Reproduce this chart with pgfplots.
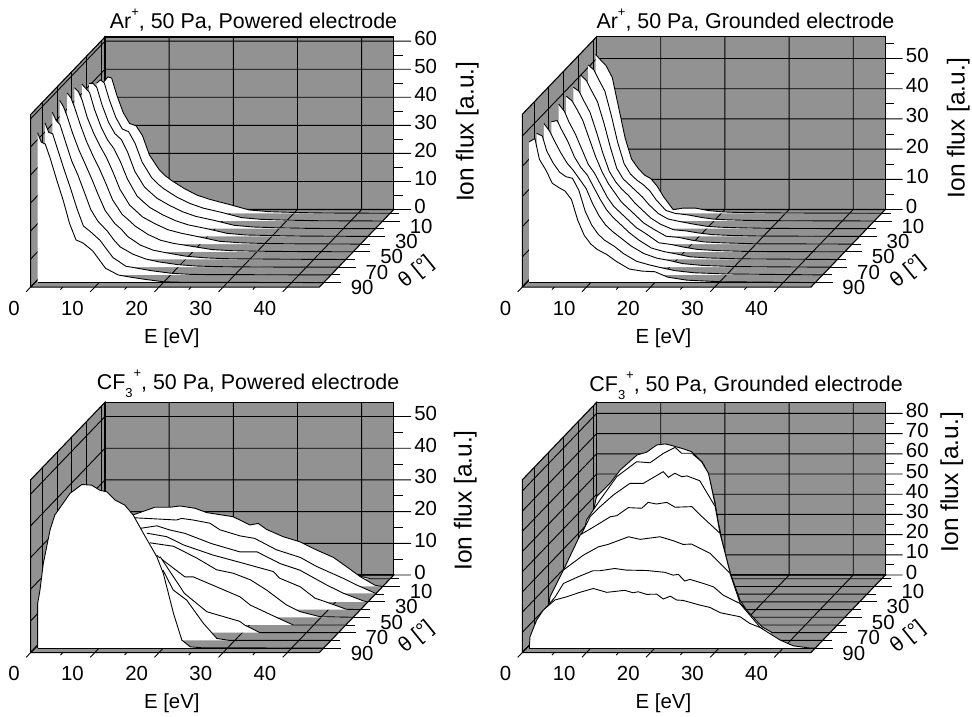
\documentclass[border=0pt]{standalone}
\usepackage{fontspec}
\setmainfont{Liberation Sans}
\usepackage{pgfplots}
\usepackage{pgfplotstable}
\pgfplotsset{compat=1.18}
\definecolor{wallgray}{HTML}{929292}
\newcommand{\fnt}{\fontsize{20.4}{24}\selectfont}
\newcommand{\supplus}{\raisebox{12pt}{\fontsize{13}{13}\selectfont +}}
\newcommand{\subthree}{\raisebox{-8.7pt}{\fontsize{13}{13}\selectfont 3}}
\pgfplotsset{
 lnk/.style={black,line width=0.9pt,mark=none,forget plot},
 wall/.style={fill=wallgray,draw=black,line width=1.1pt,mark=none,forget plot},
 panel/.style={
  x={(6.415pt,0pt)},y={(-0.738pt,-0.77pt)},
  xmin=0,xmax=45,ymin=-4.9,ymax=95.8,zmin=0,
  clip=false,
  xtick={0,10,20,30,40},ytick={10,30,50,70,90},
  grid=none,
  major tick length=0pt,minor tick length=0pt,
  tick style={draw=none},
  axis line style={draw=none},
  /pgf/number format/assume math mode=true,
  tick label style={font=\fnt,inner sep=0pt},
  xticklabel style={anchor=east,xshift=-10.8pt,yshift=-21pt},
  yticklabel style={anchor=west,xshift=27pt,yshift=-5pt},
  zticklabel style={anchor=west,xshift=20.5pt,yshift=3pt},
  label style={font=\fnt},
  title style={font=\fontsize{21.4}{25}\selectfont,inner sep=0pt},
  zticklabel pos=right,
  xlabel={E [eV]},ylabel={θ [°]},zlabel={Ion flux [a.u.]},
  xlabel style={at={(axis cs:22,95.8,0)},anchor=center,yshift=-51pt,xshift=0pt},
  ylabel style={at={(axis cs:45,95.8,0)},anchor=center,xshift=97pt,yshift=15pt,rotate=39,font=\fontsize{21}{25}\selectfont},
 },
}
% frame: zmax, major z, minor z
\newcommand{\frameit}[3]{%
 \addplot3[wall] coordinates {(0,95.8,0)(0,-4.9,0)(0,-4.9,#1)(0,95.8,#1)(0,95.8,0)};
 \addplot3[wall] coordinates {(0,-4.9,0)(45,-4.9,0)(45,-4.9,#1)(0,-4.9,#1)(0,-4.9,0)};
 \addplot3[wall] coordinates {(0,95.8,0)(45,95.8,0)(45,-4.9,0)(0,-4.9,0)(0,95.8,0)};
 \pgfplotsinvokeforeach{#2}{%
  \addplot3[lnk] coordinates {(0,95.8,##1)(0,-4.9,##1)(47.7,-4.9,##1)};}
 \pgfplotsinvokeforeach{#3}{%
  \addplot3[lnk] coordinates {(45,-4.9,##1)(46.4,-4.9,##1)};}
 \pgfplotsinvokeforeach{10,20,30,40}{%
  \addplot3[lnk] coordinates {(##1,-4.9,#1)(##1,-4.9,0)(##1,102,0)};}
 \addplot3[lnk] coordinates {(0,95.8,0)(0,102,0)};
 \pgfplotsinvokeforeach{5,15,25,35}{%
  \addplot3[lnk] coordinates {(##1,95.8,0)(##1,99,0)};}
 \pgfplotsinvokeforeach{0,20,40,60,80}{%
  \addplot3[lnk] coordinates {(0,##1,0)(0,##1,#1)};
  \addplot3[lnk] coordinates {(45,##1,0)(46.4,##1,0)};}
 \pgfplotsinvokeforeach{10,30,50,70,90}{%
  \addplot3[lnk] coordinates {(45,##1,0)(47.7,##1,0)};}
}
% curve: theta, table, z column
\newcommand{\curve}[3]{%
 \addplot3[fill=white,draw=none,mark=none,forget plot] table[x index=0,y expr=#1,z index=#3] {#2};
 \addplot3[lnk,skip coords between index={0}{1}] table[x index=0,y expr=#1,z index=#3] {#2};
}
\pgfplotstableread{
E t0 t10 t20 t30 t40 t50 t60 t70 t80 t90
0.4 0 0 0 0 0 0 0 0 0 0
0.4 46.9 49.1 51.8 54.3 55.7 56.6 56.7 55.2 54.2 53.4
1 48.6 50.3 51.8 52.8 54.4 54.9 54.4 52.3 50.8 50
1.6 48.2 49.2 50.3 51.3 51.3 51.3 50.8 50.8 50.3 49.4
2.4 42.1 43.1 44.1 45.1 45.1 45.7 45.1 45.1 44.6 44.1
3.4 35.9 36.9 38 39 39.5 39.5 39 38 37.5 36.5
4.4 32 32.8 33.9 34.4 34.9 34.4 33.9 32.8 30.8 29.3
5.4 31.2 31.8 31.8 31.3 30.8 29.8 28.7 26.7 23.6 21
6.4 27.7 27.7 27.2 26.7 25.7 24.6 23.1 20.5 17.4 15.2
7.5 20.7 21 20.5 20.5 19.5 18.5 17.4 16.4 15.4 14.1
9 15.6 15.4 14.9 14.4 13.9 13.3 12.8 12.8 12.3 11.3
10 13.3 13.1 12.8 12.3 11.8 11.3 10.8 9.7 9.2 8.2
11 11.6 11.3 10.8 10.3 9.7 9.2 8.2 7.2 6.2 5.1
13 8.7 8.4 8.2 7.7 7.2 6.2 5.1 4.6 3.1 2.7
15 6.4 6.2 6 5.6 5.1 4.1 3.3 2.9 2.3 1.9
17 4.9 4.6 4.4 4.1 3.9 3 2.4 1.9 1.5 1.2
20 3.1 3 2.9 2.7 2.5 1.9 1.2 0.9 0.6 0.3
23 1.2 1.2 1.2 1.1 1 0.8 0.6 0.4 0.2 0.1
26 0.6 0.6 0.6 0.5 0.5 0.4 0.3 0.2 0.1 0.1
30 0.3 0.3 0.3 0.3 0.2 0.2 0.2 0.1 0.1 0.1
35 0.1 0.1 0.1 0.1 0.1 0.1 0.1 0.05 0.05 0.05
45 0 0 0 0 0 0 0 0 0 0
}\tabA
\pgfplotstableread{
E t0 t10 t20 t30 t40 t50 t60 t70 t80 t90
0.4 0 0 0 0 0 0 0 0 0 0
0.4 52.6 51.7 50.9 49.4 49 48.9 45.6 47.6 46.9 46.6
1.3 50.5 50 49 48 47.5 46.5 46 45 46 47.7
2 49 47 46 45 45 43 43 42 41 40.8
3 45 43 42 41 41 39 39 38 37 37.3
4 35 35 35 34.5 35 34 34 34.5 34 32.9
5 25 26 27 27.5 29 29 30.5 32 32.5 31.5
6 18 19 20 21.5 24 26 28 29 32 30.3
7 15 15.5 16.5 18 20 22 24 26 28 27.5
8 12.7 13.5 14.5 15.5 17 18 20 21 21 20.5
9 11.5 12 12.5 13.5 14 15 16.5 17 16.5 15.6
10 9 10 10.5 11 12 13 14 14 13.5 12.8
11 5.5 7 8 9 10 11 12 12 11.5 11
12.5 1.2 3.5 5 6 7 8 9 9.5 9.5 9.3
14 1.7 2.5 3.2 4 5 6 6.5 7 7 7
16 1.7 2 2.3 2.2 2.6 3 3.8 4.5 4.5 4.5
18 0.9 1.2 1.5 1.8 2.2 2.4 2.6 3 3.3 3.8
20 0.5 0.6 0.8 1.1 1.3 1.5 1.8 2.2 2.3 3.6
22 0.3 0.4 0.5 0.6 0.7 0.8 0.9 1.2 1.4 1.8
25 0.2 0.2 0.3 0.3 0.4 0.4 0.5 0.6 0.7 0.8
30 0.1 0.1 0.1 0.1 0.1 0.1 0.2 0.2 0.3 0.3
45 0 0 0 0 0 0 0 0 0 0
}\tabB
% Panel 3 series
\pgfplotstableread{
E z
5 0
5 18
10 21.5
15 21
20 19
25 15.5
30 11.5
33 9
36 6
38 3.5
40 1
42 0
45 0
}\cz
\pgfplotstableread{
E z
6.1 0
6.1 22.6
9.5 25
11.8 25
13.4 25.4
15.7 24.7
17.6 23.3
21.7 22
24.3 19.4
25.6 19.9
26.9 18
29.5 15.7
32.1 14.1
34.7 11.5
37.3 9.2
39.4 6.2
41.5 3.1
43.8 0.4
45 0
}\ca
\pgfplotstableread{
E z
7.5 0
7.5 24.1
10.4 23.8
14 23.4
14.8 23.9
16.6 23.4
19.2 22.4
20.8 20.3
23.9 18.4
26.2 17.6
29.6 14
33.3 11.6
35.9 8.7
40 5
42.1 2.9
45 0.3
}\cb
\pgfplotstableread{
E z
9.5 0
9.5 23.2
12.1 24
14.1 22.7
16.5 21.6
20.6 18.4
25 15.8
27.7 15.8
31.3 12.1
34.4 10
38.6 5.3
41.2 2.7
44.3 0.3
45 0
}\cc
\pgfplotstableread{
E z
11.7 0
11.7 24.1
14.8 23
17.4 20.4
22 17.2
26.2 14.9
31.4 12
32.4 9.9
35.6 7.2
37.9 3.6
39.5 2.5
42.8 0.1
45 0
}\cd
\pgfplotstableread{
E z
13.3 0
13.3 23.5
17 22.4
20.6 18.7
23.7 15
26.3 13.9
29 11.8
31.5 8.6
34.6 3.9
36.7 1.8
39.8 0.2
45 0
}\ce
\pgfplotstableread{
E z
15.5 0
15.5 22
19.9 15.2
21.2 15.2
28.5 8.9
30.1 6.3
34 2.6
36.8 0
45 0
}\cf
\pgfplotstableread{
E z
17.2 0
17.2 24
21 12.4
24.5 6.6
29.6 3.6
30.4 2.4
32.8 0
45 0
}\cg
\pgfplotstableread{
E z
18.8 0
18.8 22.2
20.4 15.9
22.5 12.7
25.1 5.4
27.2 0.6
29.2 0
45 0
}\ch
\pgfplotstableread{
E z
0.42 0
0.42 0
0.42 14.1
0.78 18.3
1.3 26.7
2.34 37.2
3.1 42
5.46 48.8
7.3 51.6
8.84 51.4
10.1 49.8
11.2 49.3
12.5 46.7
14 45.1
15.3 42
16.9 36.2
19 28.8
20 23.6
21.6 10.9
22.9 2.5
24.2 0.4
26 0.1
45 0
}\ci
% Panel 4 series
\pgfplotstableread{
E z
0.5 0
0.5 0
3 35
5 43
7 50
9 56
11 60
13 63
15 62
17 58
18 48
19 34
19.8 24
20.5 11
21.4 0
45 0
}\dz
\pgfplotstableread{
E z
0.5 0
0.5 0
3 40
5 47
7 55
9 61
11 65
13 68
15 67
17 65
18.5 60
19.5 49
20.5 33
21.2 19
22 7
23 0
45 0
}\da
\pgfplotstableread{
E z
0.5 0
0.5 0
3.2 46
5 52
6.6 58
9 66
11 70
12.5 72
14 73.5
16 72
18 69
19.5 63
20.5 55
21.5 40
22.2 26
23.2 11
24.7 0
45 0
}\db
\pgfplotstableread{
E z
0.5 0
0.5 0
4 52.1
6.1 58.7
7.7 65.3
10.3 72.7
11.8 74.1
13.4 77.7
14.7 78.2
15.4 77.7
17.3 76
18.8 74.4
20.4 69.4
21.4 63.7
22.5 48.8
23.2 34
24.3 19.1
24.8 14.2
26.4 0
45 0
}\dc
\pgfplotstableread{
E z
0.5 0
0.5 0
3.6 44.4
5.7 54.3
8.3 65.8
11.4 73.2
13.5 72.7
15.6 77.4
17.4 80.3
18.4 77.4
20 77.4
21.5 73.3
22.6 67.5
23.6 52.6
24.4 37.8
26 18
27.5 4.8
28.5 0
45 0
}\dd
\pgfplotstableread{
E z
0.5 0
0.5 0
3.2 36.6
5.3 49.8
6.6 54
8.9 60.5
11.5 66.3
13.6 66.3
16.7 72.1
17.5 69.3
18.5 71.3
19.6 69.6
20.4 70
22.4 67.6
24.8 54.8
26.1 31.7
27.1 20.9
28.7 6.9
30 0
45 0
}\de
\pgfplotstableread{
E z
0.5 0
0.5 0
2.3 27.2
4.9 44.6
7.5 49.5
9.6 53.6
10.6 54.1
12.4 58.1
14.5 57.8
15.5 60.7
16.8 59.9
18.4 60.7
19.7 58.3
22.3 58.6
23.6 54.5
26.7 45.4
28.3 25.6
29.8 10.7
32.5 0
45 0
}\df
\pgfplotstableread{
E z
0.5 0
0.5 0
1.36 17.8
3.43 31
6.55 38.4
8.9 42.5
10.4 43.7
11.5 45
13.6 47.5
15.4 46.2
18.5 47.5
20.6 45.5
22.1 43.7
23.4 43.9
26.3 39.3
29.4 29.4
31 14.5
32.5 9.5
34.4 2.9
36 0
45 0
}\dg
\pgfplotstableread{
E z
0.5 0
0.5 0
1.5 14.7
3.3 21.5
4.6 28.2
6.9 31.5
9.2 34.5
10.3 34.5
12.6 35.6
14.4 34.8
17.6 34.6
20.4 33.7
21.7 32.3
22.5 32.7
23.5 29.4
24.3 30.2
26.4 28.2
28 26.5
29.5 22.4
32.1 18.3
35.2 6.7
37 2
38.5 0
45 0
}\dh
\pgfplotstableread{
E z
0.43 0
0.43 0
0.53 5.6
1.57 13.9
2.6 18.8
4.4 23.8
6.25 25.4
8.3 27.6
10.4 29.5
12.5 27.6
15.3 28.6
16.6 27.4
17.4 27.9
18.7 26.6
20.3 26.7
21.3 24.3
22.4 25.7
23.4 23.8
24.4 23.6
27 21.3
28.6 20.1
30.2 17.5
33.3 15.5
34.8 12.2
36.4 10.2
39.5 4
41.6 1.1
44.2 0
45 0
}\di
\begin{document}
\begin{tikzpicture}
\path[use as bounding box] (0,0) rectangle (972pt,717pt);
\begin{axis}[panel,at={(101.4pt,503.7pt)},anchor=origin,
  z={(0pt,2.806pt)},zmax=61.5,ztick={0,10,...,60},
  title={Ar\supplus, 50 Pa, Powered electrode},
  title style={at={(axis cs:23.15,-4.9,61.5)},anchor=base,yshift=2.4pt},
  zlabel style={at={(axis cs:45,-4.9,30)},anchor=center,yshift=-73.5pt,xshift=-6.5pt,font=\fontsize{24.5}{28}\selectfont},
]
\frameit{61.5}{0,10,...,60}{5,15,...,55}
\pgfplotsinvokeforeach{0,1,...,9}{\pgfmathtruncatemacro\th{#1*10}\pgfmathtruncatemacro\col{#1+1}
  \edef\doit{\noexpand\curve{\th}{\noexpand\tabA}{\col}}\doit}
\addplot3[lnk] coordinates {(0.4,90,0)(45,90,0)};
\end{axis}
\begin{axis}[panel,at={(593pt,503.7pt)},anchor=origin,
  z={(0pt,3.02pt)},zmax=57.2,ztick={0,10,...,50},
  title={Ar\supplus, 50 Pa, Grounded electrode},
  title style={at={(axis cs:23.2,-4.9,57.2)},anchor=base,yshift=2.4pt},
  zlabel style={at={(axis cs:45,-4.9,28.6)},anchor=center,yshift=-73pt,xshift=-5pt,font=\fontsize{24.5}{28}\selectfont},
]
\frameit{57.2}{0,10,...,50}{5,15,...,55}
\pgfplotsinvokeforeach{0,1,...,9}{\pgfmathtruncatemacro\th{#1*10}\pgfmathtruncatemacro\col{#1+1}
  \edef\doit{\noexpand\curve{\th}{\noexpand\tabB}{\col}}\doit}
\addplot3[lnk] coordinates {(0.4,90,0)(45,90,0)};
\end{axis}
\begin{axis}[panel,at={(101.4pt,138.2pt)},anchor=origin,
  z={(0pt,3.17pt)},zmax=54.5,ztick={0,10,...,50},
  title={CF\subthree\hspace{1pt}\supplus, 50 Pa, Powered electrode},
  title style={at={(axis cs:22.3,-4.9,54.5)},anchor=base,yshift=7.2pt},
  zlabel style={at={(axis cs:45,-4.9,27)},anchor=center,yshift=-71.5pt,xshift=-11pt,font=\fontsize{24.5}{28}\selectfont},
]
\frameit{54.5}{0,10,...,50}{5,15,...,45}
\curve{0}{\cz}{1}\curve{10}{\ca}{1}\curve{20}{\cb}{1}\curve{30}{\cc}{1}\curve{40}{\cd}{1}
\curve{50}{\ce}{1}\curve{60}{\cf}{1}\curve{70}{\cg}{1}\curve{80}{\ch}{1}\curve{90}{\ci}{1}
\addplot3[lnk] coordinates {(0.4,90,0)(45,90,0)};
\end{axis}
\begin{axis}[panel,at={(593pt,138.2pt)},anchor=origin,
  z={(0pt,2.02pt)},zmax=85.5,ztick={0,10,...,80},
  title={CF\subthree\hspace{1pt}\supplus, 50 Pa, Grounded electrode},
  title style={at={(axis cs:23.3,-4.9,85.5)},anchor=base,yshift=5.2pt},
  zlabel style={at={(axis cs:45,-4.9,42)},anchor=center,yshift=-66.5pt,xshift=8pt,font=\fontsize{24.5}{28}\selectfont},
]
\frameit{85.5}{0,10,...,80}{5,15,...,75}
\curve{0}{\dz}{1}\curve{10}{\da}{1}\curve{20}{\db}{1}\curve{30}{\dc}{1}\curve{40}{\dd}{1}
\curve{50}{\de}{1}\curve{60}{\df}{1}\curve{70}{\dg}{1}\curve{80}{\dh}{1}\curve{90}{\di}{1}
\addplot3[lnk] coordinates {(0.4,90,0)(45,90,0)};
\end{axis}
\end{tikzpicture}
\end{document}
